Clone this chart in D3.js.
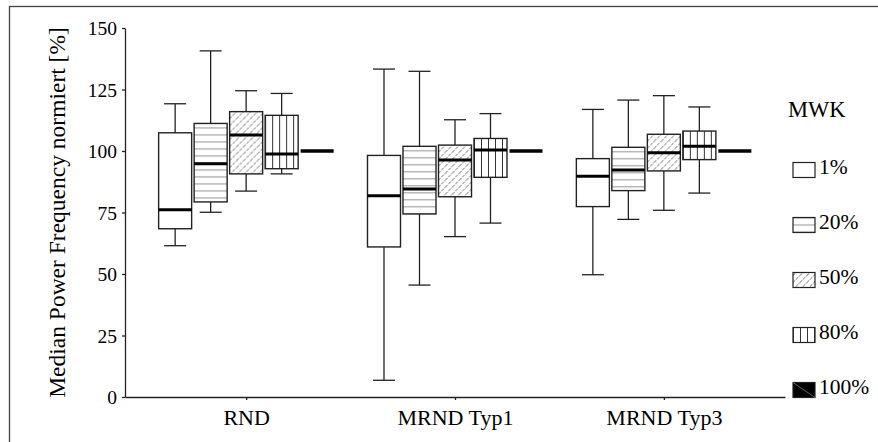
<!DOCTYPE html>
<html>
<head>
<meta charset="utf-8">
<script src="https://cdn.jsdelivr.net/npm/d3@7"></script>
<style>
  html, body { margin: 0; padding: 0; background: #fff; }
  svg { display: block; }
</style>
</head>
<body>
<svg id="chart" width="878" height="442"></svg>
<script>
// Groups on the x axis and the MWK series drawn inside each group
const categories = ["RND", "MRND Typ1", "MRND Typ3"];
const series = ["1%", "20%", "50%", "80%", "100%"];
const yTicks = [0, 25, 50, 75, 100, 125, 150];

// Box statistics: one row per category, one value per series
const whiskerLow = [
  [61.5, 75.1, 83.7, 90.7, 100],
  [6.8, 45.5, 65.2, 70.7, 100],
  [49.7, 72.2, 75.9, 82.9, 100]
];
const quartile1 = [
  [68.4, 79.3, 90.7, 92.8, 100],
  [61.0, 74.4, 81.4, 89.3, 100],
  [77.4, 83.9, 91.9, 96.5, 100]
];
const medians = [
  [76.1, 94.8, 106.5, 98.8, 100],
  [81.8, 84.6, 96.3, 100.4, 100],
  [89.7, 92.3, 99.3, 101.9, 100]
];
const quartile3 = [
  [107.4, 111.2, 116.0, 114.5, 100],
  [98.2, 101.9, 102.4, 105.1, 100],
  [96.9, 101.5, 106.8, 108.1, 100]
];
const whiskerHigh = [
  [119.2, 140.7, 124.5, 123.4, 100],
  [133.3, 132.4, 112.7, 115.2, 100],
  [116.9, 120.7, 122.5, 117.9, 100]
];

const FONT = "Liberation Serif";
const svg = d3.select("#chart");
const defs = svg.append("defs");

// outer frame
svg.append("rect")
  .attr("x", 9.5).attr("y", 6.5)
  .attr("width", 900).attr("height", 460)
  .attr("fill", "none").attr("stroke", "#444").attr("stroke-width", 1.3);

const x = d3.scalePoint().domain(categories).range([125, 785]).padding(0.58);
const xInner = d3.scaleBand().domain(series).range([-88.75, 88.75])
  .paddingInner(0.07).paddingOuter(0.035);
const y = d3.scaleLinear().domain([0, 150]).range([397, 28]);

// hatch fill for a series, anchored at (x0, y0)
function makePattern(id, kind, x0, y0) {
  const step = 7;
  const p = defs.append("pattern")
    .attr("id", id)
    .attr("patternUnits", "userSpaceOnUse")
    .attr("x", x0).attr("y", y0)
    .attr("width", step).attr("height", step);
  p.append("rect").attr("width", step).attr("height", step).attr("fill", "#fff");
  if (kind === "20%") {
    p.append("line").attr("x1", 0).attr("x2", step).attr("y1", 4.5).attr("y2", 4.5)
      .attr("stroke", "#9a9a9a").attr("stroke-width", 1.1);
  } else if (kind === "50%") {
    p.append("path")
      .attr("d", `M0,${step} L${step},0 M${-step / 2},${step / 2} L${step / 2},${-step / 2} M${step / 2},${step * 1.5} L${step * 1.5},${step / 2}`)
      .attr("stroke", "#444").attr("stroke-width", 0.8)
      .attr("stroke-dasharray", "3.2,1.2");
  } else if (kind === "80%") {
    p.append("line").attr("y1", 0).attr("y2", step).attr("x1", 0.5).attr("x2", 0.5)
      .attr("stroke", "#333").attr("stroke-width", 1);
  }
  return `url(#${id})`;
}

function fillFor(s, id, x0, y0) {
  if (s === "1%") return "#fff";
  if (s === "100%") return "#000";
  return makePattern(id, s, x0, y0);
}

// axes
const yAxis = d3.axisLeft(y).tickValues(yTicks).tickSize(3).tickPadding(5).tickSizeOuter(0);
const gy = svg.append("g").attr("transform", "translate(125,0)").call(yAxis);
gy.select(".domain").attr("stroke", "#222").attr("stroke-width", 1.3);
gy.selectAll(".tick line").attr("stroke", "#222").attr("stroke-width", 1.3);
gy.selectAll(".tick text").attr("fill", "#000").attr("dy", "0.34em")
  .style("font-family", FONT).style("font-size", "19.5px");

const xAxis = d3.axisBottom(x).tickSize(3).tickPadding(9).tickSizeOuter(0);
const gx = svg.append("g").attr("transform", "translate(0,397)").call(xAxis);
gx.select(".domain").attr("stroke", "#222").attr("stroke-width", 1.3);
gx.selectAll(".tick line").attr("stroke", "#222").attr("stroke-width", 1.3);
gx.selectAll(".tick text").attr("fill", "#000")
  .style("font-family", FONT).style("font-size", "22px");

// y axis title
svg.append("text")
  .attr("transform", "translate(65,212.5) rotate(-90)")
  .attr("text-anchor", "middle")
  .style("font-family", FONT)
  .style("font-size", "23.5px")
  .attr("fill", "#000")
  .text("Median Power Frequency normiert [%]");

// boxes
const capHalf = 11;
categories.forEach((cat, ci) => {
  const g = svg.append("g");
  series.forEach((s, si) => {
    const left = x(cat) + xInner(s);
    const bw = xInner.bandwidth();
    const cx = left + bw / 2;
    const lo = whiskerLow[ci][si], q1 = quartile1[ci][si], md = medians[ci][si],
          q3 = quartile3[ci][si], hi = whiskerHigh[ci][si];

    if (s === "100%") {
      g.append("line")
        .attr("x1", left).attr("x2", left + bw)
        .attr("y1", y(md)).attr("y2", y(md))
        .attr("stroke", "#000").attr("stroke-width", 3.5);
      return;
    }

    // whiskers and caps
    [[q3, hi], [q1, lo]].forEach(([a, b]) => {
      g.append("line").attr("x1", cx).attr("x2", cx).attr("y1", y(a)).attr("y2", y(b))
        .attr("stroke", "#222").attr("stroke-width", 1.3);
      g.append("line").attr("x1", cx - capHalf).attr("x2", cx + capHalf)
        .attr("y1", y(b)).attr("y2", y(b))
        .attr("stroke", "#222").attr("stroke-width", 1.3);
    });

    g.append("rect")
      .attr("x", left).attr("y", y(q3))
      .attr("width", bw).attr("height", y(q1) - y(q3))
      .attr("fill", fillFor(s, `pat-${ci}-${si}`, left, y(q3)))
      .attr("stroke", "#222").attr("stroke-width", 1.4);

    g.append("line")
      .attr("x1", left).attr("x2", left + bw)
      .attr("y1", y(md)).attr("y2", y(md))
      .attr("stroke", "#000").attr("stroke-width", 3);
  });
});

// legend
const legend = svg.append("g");
legend.append("text")
  .attr("x", 788).attr("y", 117)
  .style("font-family", FONT).style("font-size", "22.5px")
  .attr("fill", "#000")
  .text("MWK");

const legendRow = d3.scalePoint().domain(series).range([170, 390]);
series.forEach((s, i) => {
  const cy = legendRow(s);
  const bx = 793, bwid = 22, bh = 15;
  legend.append("rect")
    .attr("x", bx).attr("y", cy - bh / 2)
    .attr("width", bwid).attr("height", bh)
    .attr("fill", fillFor(s, `leg-${i}`, bx, cy - bh / 2 + 3))
    .attr("stroke", "#222").attr("stroke-width", 1.2);
  if (s === "100%") {
    legend.append("line")
      .attr("x1", bx).attr("y1", cy - bh / 2)
      .attr("x2", bx + bwid).attr("y2", cy + bh / 2)
      .attr("stroke", "#777").attr("stroke-width", 0.8);
  }
  legend.append("text")
    .attr("x", 819).attr("y", cy + 4)
    .style("font-family", FONT).style("font-size", "21.5px")
    .attr("fill", "#000")
    .text(s);
});
</script>
</body>
</html>
